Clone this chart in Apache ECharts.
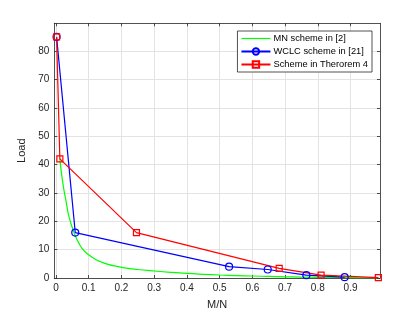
<!DOCTYPE html>
<html><head><meta charset="utf-8">
<script src="https://cdn.jsdelivr.net/npm/echarts@6/dist/echarts.min.js"></script>
<style>html,body{margin:0;padding:0;background:#fff}#c{width:420px;height:315px}</style>
</head><body><div id="c"></div>
<script>
const xTicks = [0,0.1,0.2,0.3,0.4,0.5,0.6,0.7,0.8,0.9];
const yTicks = [0,10,20,30,40,50,60,70,80];
const seriesNames = ['MN scheme in [2]','WCLC scheme in [21]','Scheme in Therorem 4'];
const mnX = [0.012,0.018,0.0245,0.031,0.038,0.045,0.051,0.058,0.07,0.0835,0.1,0.12,0.135,0.16,0.186,0.22,0.25,0.287,0.35,0.4,0.45,0.5,0.55,0.6,0.65,0.7,0.75,0.8,0.85,0.9,0.95,0.985];
const mnY = [42,36,31,27,22.5,19.5,17.4,15.2,12.3,9.9,8.2,6.6,5.8,4.8,4.1,3.4,3.0,2.6,2.0,1.6,1.3,1.05,0.85,0.7,0.55,0.42,0.33,0.25,0.17,0.11,0.05,0.02];
const wclcX = [0.002,0.059,0.529,0.647,0.765,0.882];
const wclcY = [85,16,4,3,1,0.3];
const thX = [0.002,0.012,0.246,0.682,0.81,0.985];
const thY = [85,42,16,3.4,1.0,0.1];

const zip = (a,b)=>a.map((v,i)=>[v,b[i]]);
const axisColor = '#262626';
const gridColor = '#e3e3e3';
const chart = echarts.init(document.getElementById('c'));
const font = 'Liberation Sans, Arial, sans-serif';
const baseX = {
  type:'value', min:-0.005, max:0.99,
  axisLine:{show:true,onZero:false,lineStyle:{color:axisColor,width:0.8}},
  axisTick:{show:true,inside:true,length:3,customValues:xTicks,lineStyle:{color:axisColor,width:0.8}},
  splitLine:{show:false}
};
const baseY = {
  type:'value', min:0, max:89.8,
  axisLine:{show:true,onZero:false,lineStyle:{color:axisColor,width:0.8}},
  axisTick:{show:true,inside:true,length:3,customValues:yTicks,lineStyle:{color:axisColor,width:0.8}},
  splitLine:{show:false}
};
chart.setOption({
  animation:false,
  backgroundColor:'#fff',
  grid:{left:54.3,right:40,top:23.3,bottom:35.3},
  legend:{
    data:[{name:seriesNames[0],icon:'path://M0,0 L29,0 L29,1.2 L0,1.2 Z',itemStyle:{color:'#00ff00',borderWidth:0}},{name:seriesNames[1]},{name:seriesNames[2]}],
    orient:'vertical', right:48, top:31, symbolKeepAspect:true,
    backgroundColor:'#fff', borderColor:'#262626', borderWidth:0.8,
    padding:[3,4,3,3], itemGap:4, itemWidth:29, itemHeight:8,
    textStyle:{fontFamily:font,fontSize:9.3,color:'#000',padding:[0,0,0,-2]}
  },
  xAxis:[
    Object.assign({}, baseX, {position:'bottom',
      name:'M/N', nameLocation:'middle', nameGap:21,
      nameTextStyle:{fontFamily:font,fontSize:11,color:axisColor},
      axisLabel:{customValues:xTicks,fontFamily:font,fontSize:10,color:axisColor,margin:5},
      splitLine:{show:true,customValues:xTicks,lineStyle:{color:gridColor,width:1}}
    }),
    Object.assign({}, baseX, {position:'top',axisLabel:{show:false}})
  ],
  yAxis:[
    Object.assign({}, baseY, {position:'left',
      name:'Load', nameLocation:'middle', nameGap:20,
      nameTextStyle:{fontFamily:font,fontSize:11,color:axisColor},
      axisLabel:{customValues:yTicks,fontFamily:font,fontSize:10,color:axisColor,margin:5},
      splitLine:{show:true,customValues:yTicks,lineStyle:{color:gridColor,width:1}}
    }),
    Object.assign({}, baseY, {position:'right',axisLabel:{show:false}})
  ],
  series:[
    {name:seriesNames[0],type:'line',data:zip(mnX,mnY),smooth:true,symbol:'none',
     lineStyle:{color:'#00ff00',width:1.2},itemStyle:{color:'#00ff00'}},
    {name:seriesNames[1],type:'line',data:zip(wclcX,wclcY),symbol:'circle',symbolSize:7,
     lineStyle:{color:'#0000ff',width:1.2},itemStyle:{color:'rgba(0,0,0,0)',borderColor:'#0000ff',borderWidth:1.2}},
    {name:seriesNames[2],type:'line',data:zip(thX,thY),symbol:'rect',symbolSize:6,
     lineStyle:{color:'#ff0000',width:1.2},itemStyle:{color:'rgba(0,0,0,0)',borderColor:'#ff0000',borderWidth:1.2}}
  ]
});
</script></body></html>
